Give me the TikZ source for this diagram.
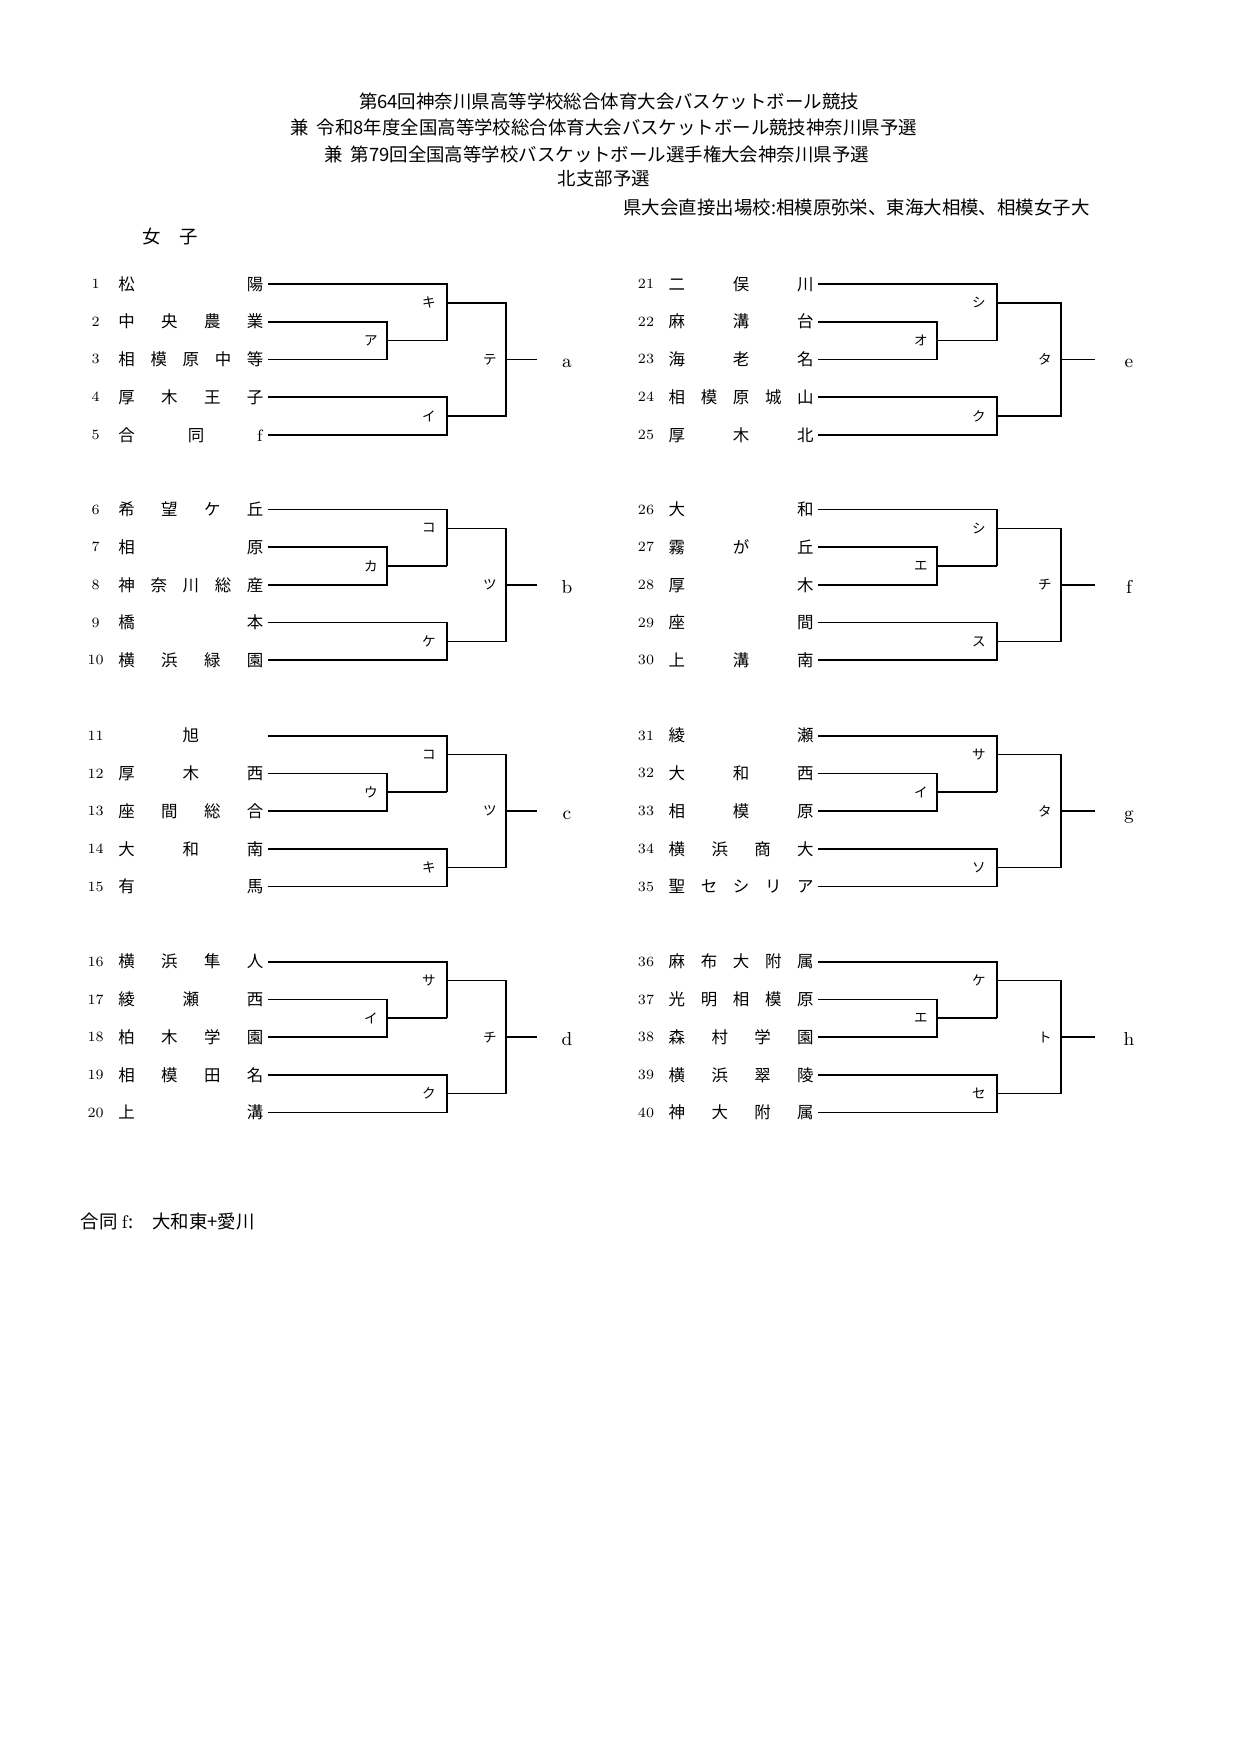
\documentclass[tikz,border=0pt]{standalone}
\usepackage{fontspec}
\newfontfamily\jp{Noto Sans CJK JP}
\tikzset{
  br/.style={line width=0.8pt, line join=miter},
  num/.style={font=\fontsize{6.8}{7}\selectfont, inner sep=0pt},
  nm/.style={font=\jp\fontsize{7.9}{9}\selectfont, inner xsep=2pt, inner ysep=0pt, anchor=west},
  lab/.style={font=\jp\fontsize{6.5}{7}\selectfont, inner sep=0pt, anchor=east},
  res/.style={font=\fontsize{9}{10}\selectfont, inner sep=0pt, anchor=base},
  ttl/.style={font=\jp\fontsize{8.85}{11}\selectfont, inner sep=0pt}
}
% team: #1 node name, #2 y, #3 number, #4 name content
\newcommand\tm[4]{%
  \node[num] (#1n) at (\Xnum, #2) {#3};
  \node[nm] (#1) at (\Xname, #2) {\makebox[69.6pt][s]{#4}};
}
% bracket: #1 prefix, #2 y0, #3 inner, #4 top, #5 bottom, #6 final, #7 letter
\newcommand\bk[7]{%
  \path
    coordinate (#1a2) at (\Vone, #2+37.7)
    coordinate (#1a3) at (\Vone, #2+75.4)
    coordinate (#1am) at (\Vone, #2+56.55)
    coordinate (#1bm) at (\Vtwo, #2+56.55)
    coordinate (#1b1) at (\Vtwo, #2)
    coordinate (#1bo) at (\Vtwo, #2+18.85)
    coordinate (#1c4) at (\Vtwo, #2+113.1)
    coordinate (#1c5) at (\Vtwo, #2+150.8)
    coordinate (#1co) at (\Vtwo, #2+131.95)
    coordinate (#1d1) at (\Vthree, #2+18.85)
    coordinate (#1d2) at (\Vthree, #2+131.95)
    coordinate (#1do) at (\Vthree, #2+75.4)
    coordinate (#1e) at (\Vend, #2+75.4);
  \draw[br] (#1t2.east) -- (#1a2) -- (#1a3) -- (#1t3.east);
  \draw[br] (#1am) -- (#1bm);
  \draw[br] (#1t1.east) -- (#1b1) -- (#1bm);
  \draw[br] (#1t4.east) -- (#1c4) -- (#1c5) -- (#1t5.east);
  \draw[br] (#1bo) -- (#1d1) -- (#1d2) -- (#1co);
  \draw[br] (#1do) -- (#1e);
  \node[lab] (#1L1) at (\Vone-9, #2+56.55) {#3};
  \node[lab] (#1L2) at (\Vtwo-11, #2+18.85) {#4};
  \node[lab] (#1L3) at (\Vtwo-11, #2+131.95) {#5};
  \node[lab] (#1L4) at (\Vthree-9, #2+75.4) {#6};
  \node[res] (#1R) at (\Vlet, #2+75.4+8.5) {#7};
}
\begin{document}
\begin{tikzpicture}[x=0.48pt,y=-0.48pt]
\useasboundingbox (0,0) rectangle (1240,1754);

% titles
\node[ttl] (t1) at (609,101.7) {第64回神奈川県高等学校総合体育大会バスケットボール競技};
\node[ttl] (t2) at (604,127.5) {兼\hspace{0.4em}令和8年度全国高等学校総合体育大会バスケットボール競技神奈川県予選};
\node[ttl] (t3) at (597,154.3) {兼\hspace{0.4em}第79回全国高等学校バスケットボール選手権大会神奈川県予選};
\node[ttl] (t4) at (604,179) {北支部予選};
\node[ttl,anchor=east] (t5) at (1090,208) {県大会直接出場校:相模原弥栄、東海大相模、相模女子大};
\node[ttl,anchor=west] (jo) at (142,237) {女　子};

% ---------- left side ----------
\def\Xnum{95.7}\def\Xname{113.8}
\def\Vone{387}\def\Vtwo{447}\def\Vthree{506}\def\Vend{537}\def\Vlet{567}

\tm{At1}{284}{1}{松\hfill 陽}
\tm{At2}{321.7}{2}{中\hfill 央\hfill 農\hfill 業}
\tm{At3}{359.4}{3}{相\hfill 模\hfill 原\hfill 中\hfill 等}
\tm{At4}{397.1}{4}{厚\hfill 木\hfill 王\hfill 子}
\tm{At5}{434.8}{5}{合\hfill 同\hfill \textrm{f}}
\bk{A}{284}{ア}{キ}{イ}{テ}{a}

\tm{Bt1}{509.5}{6}{希\hfill 望\hfill ケ\hfill 丘}
\tm{Bt2}{547.2}{7}{相\hfill 原}
\tm{Bt3}{584.9}{8}{神\hfill 奈\hfill 川\hfill 総\hfill 産}
\tm{Bt4}{622.6}{9}{橋\hfill 本}
\tm{Bt5}{660.3}{10}{横\hfill 浜\hfill 緑\hfill 園}
\bk{B}{509.5}{カ}{コ}{ケ}{ツ}{b}

\tm{Ct1}{735.7}{11}{\hfill 旭\hfill}
\tm{Ct2}{773.4}{12}{厚\hfill 木\hfill 西}
\tm{Ct3}{811.1}{13}{座\hfill 間\hfill 総\hfill 合}
\tm{Ct4}{848.8}{14}{大\hfill 和\hfill 南}
\tm{Ct5}{886.5}{15}{有\hfill 馬}
\bk{C}{735.7}{ウ}{コ}{キ}{ツ}{c}

\tm{Dt1}{961.7}{16}{横\hfill 浜\hfill 隼\hfill 人}
\tm{Dt2}{999.4}{17}{綾\hfill 瀬\hfill 西}
\tm{Dt3}{1037.1}{18}{柏\hfill 木\hfill 学\hfill 園}
\tm{Dt4}{1074.8}{19}{相\hfill 模\hfill 田\hfill 名}
\tm{Dt5}{1112.5}{20}{上\hfill 溝}
\bk{D}{961.7}{イ}{サ}{ク}{チ}{d}

% ---------- right side ----------
\def\Xnum{646}\def\Xname{664.1}
\def\Vone{937}\def\Vtwo{997}\def\Vthree{1061}\def\Vend{1095}\def\Vlet{1129}

\tm{Et1}{284}{21}{二\hfill 俣\hfill 川}
\tm{Et2}{321.7}{22}{麻\hfill 溝\hfill 台}
\tm{Et3}{359.4}{23}{海\hfill 老\hfill 名}
\tm{Et4}{397.1}{24}{相\hfill 模\hfill 原\hfill 城\hfill 山}
\tm{Et5}{434.8}{25}{厚\hfill 木\hfill 北}
\bk{E}{284}{オ}{シ}{ク}{タ}{e}

\tm{Ft1}{509.5}{26}{大\hfill 和}
\tm{Ft2}{547.2}{27}{霧\hfill が\hfill 丘}
\tm{Ft3}{584.9}{28}{厚\hfill 木}
\tm{Ft4}{622.6}{29}{座\hfill 間}
\tm{Ft5}{660.3}{30}{上\hfill 溝\hfill 南}
\bk{F}{509.5}{エ}{シ}{ス}{チ}{f}

\tm{Gt1}{735.7}{31}{綾\hfill 瀬}
\tm{Gt2}{773.4}{32}{大\hfill 和\hfill 西}
\tm{Gt3}{811.1}{33}{相\hfill 模\hfill 原}
\tm{Gt4}{848.8}{34}{横\hfill 浜\hfill 商\hfill 大}
\tm{Gt5}{886.5}{35}{聖\hfill セ\hfill シ\hfill リ\hfill ア}
\bk{G}{735.7}{イ}{サ}{ソ}{タ}{g}

\tm{Ht1}{961.7}{36}{麻\hfill 布\hfill 大\hfill 附\hfill 属}
\tm{Ht2}{999.4}{37}{光\hfill 明\hfill 相\hfill 模\hfill 原}
\tm{Ht3}{1037.1}{38}{森\hfill 村\hfill 学\hfill 園}
\tm{Ht4}{1074.8}{39}{横\hfill 浜\hfill 翠\hfill 陵}
\tm{Ht5}{1112.5}{40}{神\hfill 大\hfill 附\hfill 属}
\bk{H}{961.7}{エ}{ケ}{セ}{ト}{h}

% footer
\node[ttl,anchor=west] (foot) at (80.5,1222) {合同 \textrm{f}:\hspace{1em}大和東+愛川};
\end{tikzpicture}
\end{document}
